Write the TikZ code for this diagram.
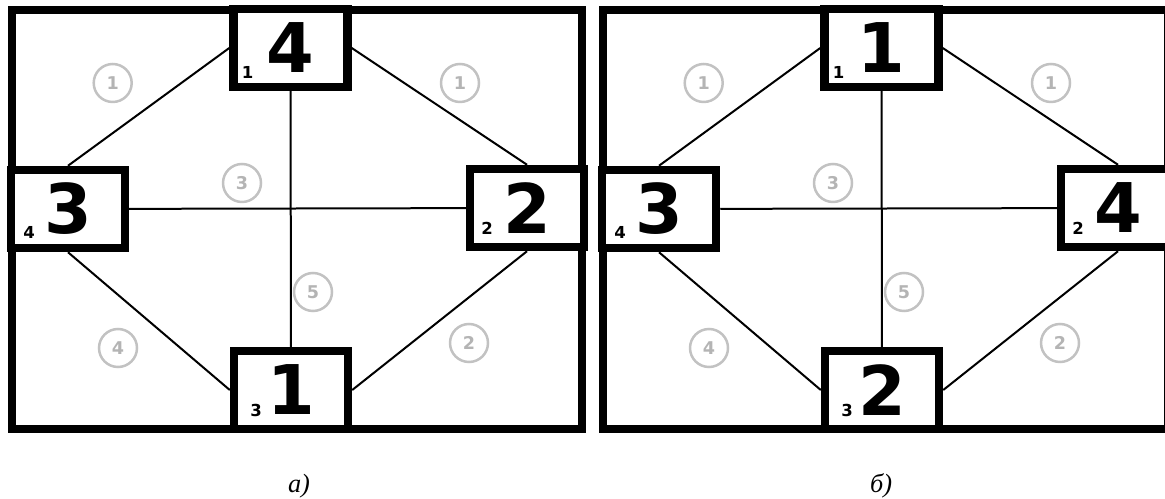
\documentclass[tikz,border=0pt]{standalone}
\usepackage{fontspec}
\setmainfont{Liberation Serif}
\newfontfamily\digitfont{DejaVu Sans}
\usepackage{xcolor}
\definecolor{ringgray}{HTML}{C2C2C2}
\definecolor{ringtext}{HTML}{B4B4B4}
\usepackage{tikz}

\begin{document}
\begin{tikzpicture}[
  x=0.02cm, y=-0.02cm,
  frame/.style={line width=0.16cm},
  room/.style={draw,fill=white,line width=0.17cm,minimum width=2.28cm,minimum height=1.56cm,inner sep=0pt,font=\digitfont\bfseries\fontsize{39}{39}\selectfont},
  sub/.style={anchor=base,inner sep=0pt,font=\digitfont\bfseries\fontsize{9.4}{10}\selectfont},
  wire/.style={line width=0.04cm},
  ring/.style={circle,draw=ringgray,line width=0.05cm,minimum size=0.76cm,inner sep=0pt,text=ringtext,font=\digitfont\bfseries\fontsize{10}{10}\selectfont},
  caption/.style={anchor=base,font=\itshape\fontsize{15}{15}\selectfont}
]
\clip (0,0) rectangle (1165,499);
\foreach \p/\dx/\fr/\nt/\nl/\nr/\nb in {a/0/582/4/3/2/1, b/591/577/1/3/4/2} {
  \draw[frame] (12+\dx,10) rectangle (\fr+\dx,428.5);
  \node[room] (t\p) at (290.5+\dx,48) {\nt};
  \node[room] (l\p) at (68+\dx,209) {\nl};
  \node[room] (r\p) at (527+\dx,208) {\nr};
  \node[room] (b\p) at (291+\dx,390) {\nb};
  \node[sub] (st\p) at (247.5+\dx,79) {1};
  \node[sub] (sl\p) at (29+\dx,239) {4};
  \node[sub] (sr\p) at (487+\dx,235) {2};
  \node[sub] (sb\p) at (256+\dx,417) {3};
  \draw[wire] (t\p.west) -- (l\p.north);
  \draw[wire] (t\p.east) -- (r\p.north);
  \draw[wire] (l\p.south) -- (b\p.west);
  \draw[wire] (r\p.south) -- (b\p.east);
  \draw[wire] (t\p) -- (b\p);
  \draw[wire] (l\p) -- (r\p);
  \foreach \n/\x/\y [count=\k] in {1/112.7/83, 1/460/83, 3/242/183, 5/313/292, 4/118/348, 2/469/343}
    \node[ring] (c\p\k) at (\x+\dx,\y) {\n};
}
\node[caption] (capa) at (299,492) {а)};
\node[caption] (capb) at (881,492) {б)};
\end{tikzpicture}
\end{document}
